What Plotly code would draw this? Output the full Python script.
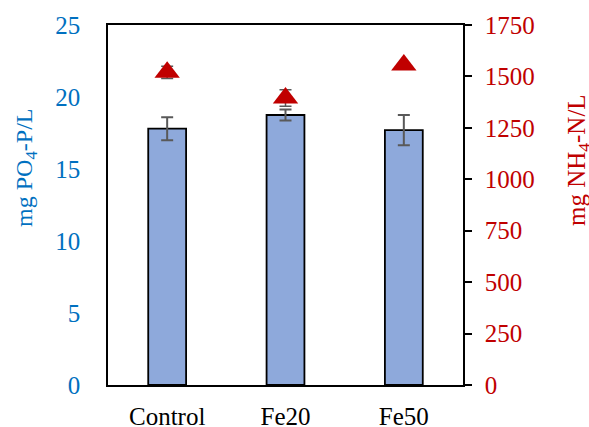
import plotly.graph_objects as go

categories = ["Control", "Fe20", "Fe50"]
po4_values = [17.8, 18.75, 17.7]
po4_errors = [0.8, 0.38, 1.05]
nh4_values = [1520, 1395, 1555]
nh4_errors = [30, 40, 10]

blue = "#0070C0"
red = "#C00000"
font_family = "Liberation Serif, Times New Roman, serif"

fig = go.Figure()
fig.add_trace(go.Bar(
    x=categories, y=po4_values,
    marker=dict(color="#8EA9DB", line=dict(color="black", width=1.8)),
    error_y=dict(type="data", array=po4_errors, color="#595959", thickness=2, width=6),
    yaxis="y", showlegend=False,
))
fig.add_trace(go.Scatter(
    x=categories, y=nh4_values, mode="markers",
    marker=dict(symbol="triangle-up", size=22, color=red),
    error_y=dict(type="data", array=nh4_errors, color="#595959", thickness=1.5, width=6),
    yaxis="y2", showlegend=False,
))

fig.update_layout(
    width=589, height=427,
    margin=dict(l=108, r=126, t=25, b=42, autoexpand=False),
    paper_bgcolor="white", plot_bgcolor="white",
    bargap=0.68,
    font=dict(family=font_family, size=25, color="black"),
    xaxis=dict(
        showline=True, linecolor="black", linewidth=1.5, mirror=True,
        ticks="", tickfont=dict(size=25, color="black"),
        ticklabelstandoff=8, automargin=False,
    ),
    yaxis=dict(
        range=[0, 25], dtick=5, showgrid=False, zeroline=False,
        showline=True, linecolor="black", linewidth=1.5, mirror=True,
        ticks="", tickfont=dict(size=25, color=blue),
        ticklabelstandoff=21, automargin=False,
    ),
    yaxis2=dict(
        range=[0, 1750], dtick=250, overlaying="y", side="right",
        showgrid=False, zeroline=False,
        showline=True, linecolor="black", linewidth=1.5,
        ticks="outside", ticklen=7, tickcolor="black", tickwidth=1.5,
        tickfont=dict(size=25, color=red),
        ticklabelstandoff=8, automargin=False,
    ),
    annotations=[
        dict(text="mg PO<sub>4</sub>-P/L", xref="paper", yref="paper",
             x=-0.231, y=0.603, xanchor="center", yanchor="middle", textangle=-90,
             showarrow=False, font=dict(size=24, color=blue, family=font_family)),
        dict(text="mg NH<sub>4</sub>-N/L", xref="paper", yref="paper",
             x=1.324, y=0.625, xanchor="center", yanchor="middle", textangle=-90,
             showarrow=False, font=dict(size=25, color=red, family=font_family)),
    ],
)

fig.write_html(
    "out.html",
    config={"displayModeBar": False},
    post_script="document.body.style.margin='0';document.body.style.overflow='hidden';",
)
